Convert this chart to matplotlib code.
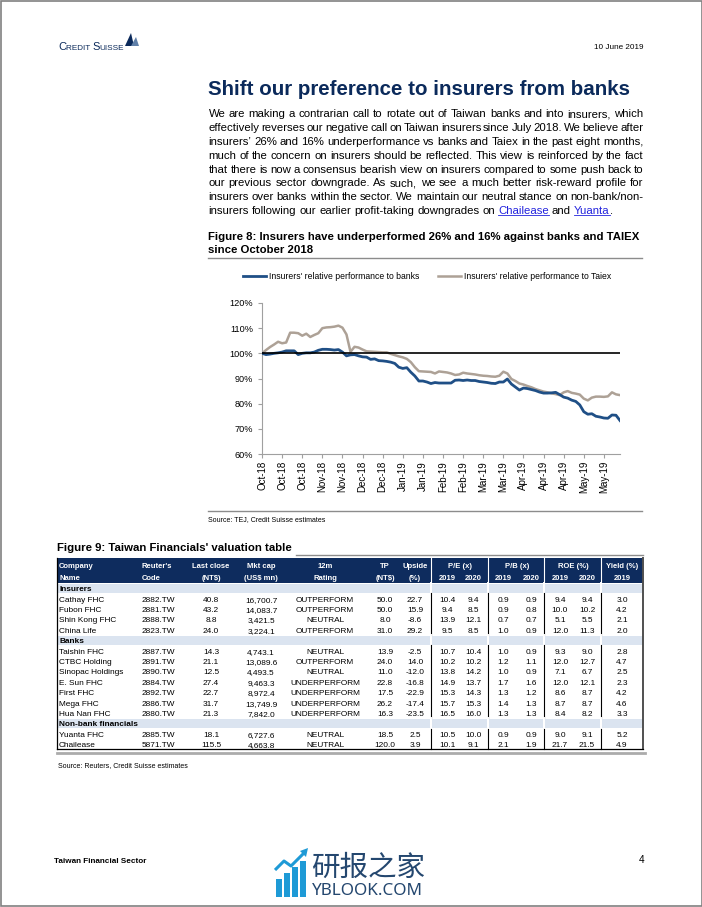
import matplotlib
matplotlib.use('Agg')
import matplotlib.pyplot as plt
from matplotlib.patches import Rectangle, Polygon
from matplotlib.ticker import FuncFormatter

# ___ CONSTANTS ___ #
FONT = 'Liberation Sans'
NAVY = '#0b2a5b'
HEAD_BG = '#0e2c5e'
BAND_BG = '#dbe4f0'
BLUE = '#1f4f86'
GRAY = '#ada196'
LINK = '#2222dd'
plt.rcParams['font.family'] = [FONT, 'DejaVu Sans']

# ___ CHART DATA (Figure 8) ___ #
DATE_LABELS = ['Oct-18', 'Oct-18', 'Oct-18', 'Nov-18', 'Nov-18', 'Dec-18', 'Dec-18',
               'Jan-19', 'Jan-19', 'Feb-19', 'Feb-19', 'Mar-19', 'Mar-19', 'Apr-19',
               'Apr-19', 'Apr-19', 'May-19', 'May-19']
LABEL_EVERY = 5  # points between two date labels
VS_BANKS = [100.0, 99.5, 99.7, 100.0, 100.2, 100.5, 101.0, 101.0, 101.0, 99.5,
            100.0, 100.2, 100.2, 100.5, 101.2, 101.6, 101.6, 101.5, 101.3, 101.5,
            100.5, 99.0, 99.4, 99.5, 99.0, 98.6, 98.5, 97.6, 97.8, 97.1,
            97.0, 96.8, 96.5, 96.0, 94.5, 94.0, 94.3, 92.5, 91.0, 89.0,
            89.0, 88.6, 88.0, 88.4, 88.2, 88.2, 88.2, 88.2, 89.3, 89.4,
            89.2, 89.4, 89.2, 89.2, 88.8, 88.6, 88.4, 88.1, 88.0, 88.6,
            88.6, 89.8, 87.8, 86.6, 85.4, 86.2, 86.0, 85.6, 85.2, 84.6,
            84.2, 84.2, 84.3, 84.5, 83.6, 82.6, 82.2, 81.4, 80.9, 79.5,
            76.8, 75.8, 76.0, 75.0, 74.7, 74.3, 74.2, 75.5, 75.4, 73.3]
VS_TAIEX = [100.0, 101.3, 102.5, 103.5, 104.6, 104.0, 104.3, 108.2, 108.2, 108.0,
            107.0, 107.8, 106.5, 107.3, 108.0, 110.0, 110.3, 110.4, 110.6, 111.0,
            110.2, 107.5, 100.6, 102.6, 102.3, 101.5, 100.8, 100.7, 100.6, 100.5,
            100.4, 100.4, 99.8, 99.3, 98.8, 98.4, 97.8, 96.5, 94.5, 92.9,
            92.8, 92.7, 92.6, 92.0, 92.8, 92.6, 92.4, 92.0, 91.4, 91.6,
            92.3, 92.0, 91.8, 91.6, 91.3, 91.1, 91.0, 90.8, 90.7, 91.1,
            92.7, 92.0, 89.8, 89.0, 88.0, 87.6, 87.0, 86.5, 85.8, 85.3,
            84.8, 84.5, 84.1, 83.8, 83.4, 84.5, 85.0, 84.3, 84.0, 83.6,
            82.0, 81.3, 82.4, 82.8, 82.8, 82.7, 82.9, 84.5, 83.7, 83.4]
Y_TICKS = [60, 70, 80, 90, 100, 110, 120]

# ___ TABLE DATA (Figure 9) ___ #
SECTIONS = ['Insurers', 'Banks', 'Non-bank financials']
SECTION_SIZES = [4, 7, 2]
COMPANY = ['Cathay FHC', 'Fubon FHC', 'Shin Kong FHC', 'China Life',
           'Taishin FHC', 'CTBC Holding', 'Sinopac Holdings', 'E. Sun FHC',
           'First FHC', 'Mega FHC', 'Hua Nan FHC', 'Yuanta FHC', 'Chailease']
CODE = ['2882.TW', '2881.TW', '2888.TW', '2823.TW', '2887.TW', '2891.TW', '2890.TW',
        '2884.TW', '2892.TW', '2886.TW', '2880.TW', '2885.TW', '5871.TW']
LAST_CLOSE = [40.8, 43.2, 8.8, 24.0, 14.3, 21.1, 12.5, 27.4, 22.7, 31.7, 21.3, 18.1, 115.5]
MKT_CAP = [16700.7, 14083.7, 3421.5, 3224.1, 4743.1, 13089.6, 4493.5, 9463.3,
           8972.4, 13749.9, 7842.0, 6727.6, 4663.8]
RATING = ['OUTPERFORM', 'OUTPERFORM', 'NEUTRAL', 'OUTPERFORM', 'NEUTRAL', 'OUTPERFORM',
          'NEUTRAL', 'UNDERPERFORM', 'UNDERPERFORM', 'UNDERPERFORM', 'UNDERPERFORM',
          'NEUTRAL', 'NEUTRAL']
TP = [50.0, 50.0, 8.0, 31.0, 13.9, 24.0, 11.0, 22.8, 17.5, 26.2, 16.3, 18.5, 120.0]
UPSIDE = [22.7, 15.9, -8.6, 29.2, -2.5, 14.0, -12.0, -16.8, -22.9, -17.4, -23.5, 2.5, 3.9]
PE_2019 = [10.4, 9.4, 13.9, 9.5, 10.7, 10.2, 13.8, 14.9, 15.3, 15.7, 16.5, 10.5, 10.1]
PE_2020 = [9.4, 8.5, 12.1, 8.5, 10.4, 10.2, 14.2, 13.7, 14.3, 15.3, 16.0, 10.0, 9.1]
PB_2019 = [0.9, 0.9, 0.7, 1.0, 1.0, 1.2, 1.0, 1.7, 1.3, 1.4, 1.3, 0.9, 2.1]
PB_2020 = [0.9, 0.8, 0.7, 0.9, 0.9, 1.1, 0.9, 1.6, 1.2, 1.3, 1.3, 0.9, 1.9]
ROE_2019 = [9.4, 10.0, 5.1, 12.0, 9.3, 12.0, 7.1, 12.0, 8.6, 8.7, 8.4, 9.0, 21.7]
ROE_2020 = [9.4, 10.2, 5.5, 11.3, 9.0, 12.7, 6.7, 12.1, 8.7, 8.7, 8.2, 9.1, 21.5]
YIELD_2019 = [3.0, 4.2, 2.1, 2.0, 2.8, 4.7, 2.5, 2.3, 4.2, 4.6, 3.3, 5.2, 4.9]

PARAGRAPH = [
    "We are making a contrarian call to rotate out of Taiwan banks and into insurers, which",
    "effectively reverses our negative call on Taiwan insurers since July 2018.  We believe after",
    "insurers\u2019 26% and 16% underperformance vs banks and Taiex in the past eight months,",
    "much of the concern on insurers should be reflected.  This view is reinforced by the fact",
    "that there is now a consensus bearish view on insurers compared to some push back to",
    "our previous sector downgrade. As such, we see a much better risk-reward profile for",
    "insurers over banks within the sector.  We maintain our neutral stance on non-bank/non-",
    "insurers following our earlier profit-taking downgrades on Chailease and Yuanta.",
]
LINKS = ['Chailease', 'Yuanta']

# page canvas in pixel units (y grows downwards)
fig = plt.figure(figsize=(7.02, 9.07), dpi=100)
pg = fig.add_axes([0, 0, 1, 1])
pg.set_xlim(0, 702)
pg.set_ylim(907, 0)
pg.axis('off')
renderer = fig.canvas.get_renderer()


def put(x, y, s, size, ha='left', weight='normal', color='black', **kw):
    # y is the middle of the capital letters; text sits on its baseline
    base = y + 0.358 * size * 100 / 72
    return pg.text(x, base, s, fontsize=size, ha=ha, va='baseline', fontweight=weight,
                   color=color, **kw)


def width_of(t):
    return t.get_window_extent(renderer).width


def fit(s, target, weight='normal', **kw):
    # font size that makes s exactly target pixels wide
    t = pg.text(0, 0, s, fontsize=10, fontweight=weight, **kw)
    w = width_of(t)
    t.remove()
    return 10 * target / w


# ___ page frame ___ #
pg.add_patch(Rectangle((0.5, 0.5), 701, 905, fill=False, ec='#808080', lw=1.2))

# ___ header ___ #
logo = [('C', 8.0), ('REDIT ', 5.9), ('S', 8.0), ('UISSE', 5.9)]
x = 58
for part, size in logo:
    t = pg.text(x, 50, part, fontsize=size, color=NAVY, va='baseline')
    x += width_of(t)
pg.add_patch(Polygon([(125, 46), (131, 33), (134, 46)], closed=True, color=NAVY, lw=0))
pg.add_patch(Polygon([(131, 46), (136, 37), (139, 46)], closed=True, color='#5f7fa8', lw=0))
put(644, 46, '10 June 2019', fit('10 June 2019', 49), ha='right')

put(208, 88, 'Shift our preference to insurers from banks',
    fit('Shift our preference to insurers from banks', 424, 'bold'), weight='bold', color=NAVY)

# ___ justified paragraph ___ #
P_SIZE = fit(PARAGRAPH[-1], 385) * 1.05
sp_t = pg.text(0, 0, 'a a', fontsize=P_SIZE)
nosp_t = pg.text(0, 0, 'aa', fontsize=P_SIZE)
SPACE = width_of(sp_t) - width_of(nosp_t)
sp_t.remove()
nosp_t.remove()
for k, line in enumerate(PARAGRAPH):
    y = 113.3 + k * 13.8
    words = line.split()
    last = k == len(PARAGRAPH) - 1
    if not last:
        ts = [put(208.5, y, w, P_SIZE) for w in words]
        ws = [width_of(t) for t in ts]
        gap = (643.5 - 208.5 - sum(ws)) / (len(words) - 1)
        x = 208.5
        for t, w in zip(ts, ws):
            t.set_x(x)
            x += w + gap
    else:
        x = 208.5
        for w in words:
            core = w.rstrip('.')
            if core in LINKS:
                t = put(x, y, core, P_SIZE, color=LINK)
                cw = width_of(t)
                pg.plot([x, x + cw], [y + 5.0, y + 5.0], color=LINK, lw=0.6)
                x += cw
                if w.endswith('.'):
                    x += width_of(put(x, y, '.', P_SIZE))
            else:
                x += width_of(put(x, y, w, P_SIZE))
            x += SPACE

# ___ Figure 8 ___ #
F_SIZE = fit('Figure 8: Insurers have underperformed 26% and 16% against banks and TAIEX', 433, 'bold')
put(208, 236, 'Figure 8: Insurers have underperformed 26% and 16% against banks and TAIEX',
    F_SIZE, weight='bold')
put(208, 249, 'since October 2018', F_SIZE, weight='bold')
pg.plot([208, 642], [258, 258], color='#8c8c8c', lw=1.0)

ax = fig.add_axes([262 / 702, 1 - 454 / 907, 358 / 702, 151 / 907])
ax.patch.set_alpha(0)
x_idx = list(range(len(VS_BANKS)))
ax.plot(x_idx, VS_BANKS, color=BLUE, lw=2.0, label="Insurers' relative performance to banks",
        solid_joinstyle='round', zorder=3)
ax.plot(x_idx, VS_TAIEX, color=GRAY, lw=1.8, label="Insurers' relative performance to Taiex",
        solid_joinstyle='round', zorder=2)
ax.axhline(100, color='black', lw=1.2, zorder=4)
ax.set_xlim(0, len(VS_BANKS) - 1)
ax.set_ylim(Y_TICKS[0], Y_TICKS[-1])
ax.set_yticks(Y_TICKS)
ax.yaxis.set_major_formatter(FuncFormatter(lambda v, _: f'{v:.0f}%'))
ax.set_xticks(range(0, LABEL_EVERY * len(DATE_LABELS), LABEL_EVERY))
ax.set_xticklabels(DATE_LABELS, rotation=90)
for side in ('top', 'right'):
    ax.spines[side].set_visible(False)
for side in ('left', 'bottom'):
    ax.spines[side].set_color('#a0a0a0')
    ax.spines[side].set_linewidth(0.8)
ax.tick_params(axis='y', length=2.9, width=0.8, color='#a0a0a0', pad=3.5, labelsize=6.6)
ax.tick_params(axis='x', length=2.9, width=0.8, color='#a0a0a0', pad=2, labelsize=7.0)

L_SIZE = fit("Insurers' relative performance to banks", 149)
L_PX = L_SIZE * 100 / 72
ax.legend(loc='center left', bbox_to_anchor=(243 / 702, 1 - 277 / 907),
          bbox_transform=fig.transFigure, ncol=2, frameon=False, fontsize=L_SIZE,
          borderpad=0, borderaxespad=0, handlelength=23 / L_PX, handletextpad=0.3,
          columnspacing=19 / L_PX)

pg.plot([208, 642], [510.5, 510.5], color='#8c8c8c', lw=1.0)
S_SIZE = fit('Source: Reuters, Credit Suisse estimates', 128)
put(208, 519, 'Source: TEJ, Credit Suisse estimates', S_SIZE)

# ___ Figure 9 table ___ #
put(57, 547, "Figure 9: Taiwan Financials' valuation table", F_SIZE, weight='bold')
pg.plot([296, 643], [555, 555], color='#8c8c8c', lw=1.0)

T_LEFT, T_RIGHT = 57, 643
T_TOP, HEAD_H, ROW_H = 558, 25, 10.4
SEPS = [430.7, 487.7, 544.3, 600.7]
H_SIZE = fit('Last close', 37, 'bold')
B_SIZE = fit('OUTPERFORM', 55) * 1.07

pg.add_patch(Rectangle((T_LEFT, T_TOP), T_RIGHT - T_LEFT, HEAD_H, color=HEAD_BG, lw=0))
for sx in SEPS:
    pg.plot([sx, sx], [T_TOP, T_TOP + HEAD_H], color='white', lw=0.8)

# (x, align, first header line, second header line)
COLUMNS = [
    (59, 'left', 'Company', 'Name'),
    (142, 'left', "Reuter's", 'Code'),
    (211, 'center', 'Last close', '(NT$)'),
    (261, 'center', 'Mkt cap', '(US$ mn)'),
    (325, 'center', '12m', 'Rating'),
    (385, 'center', 'TP', '(NT$)'),
    (415, 'center', 'Upside', '(%)'),
    (447, 'center', '', '2019'),
    (473, 'center', '', '2020'),
    (503, 'center', '', '2019'),
    (531, 'center', '', '2020'),
    (560, 'center', '', '2019'),
    (587, 'center', '', '2020'),
    (622, 'center', 'Yield (%)', '2019'),
]
GROUPS = [(460, 'P/E (x)'), (517, 'P/B (x)'), (573, 'ROE (%)')]
for cx, ha, top, bottom in COLUMNS:
    put(cx, T_TOP + 7, top, H_SIZE, ha=ha, weight='bold', color='white')
    put(cx, T_TOP + 19, bottom, H_SIZE, ha=ha, weight='bold', color='white')
for cx, label in GROUPS:
    put(cx, T_TOP + 7, label, H_SIZE, ha='center', weight='bold', color='white')

row = 0
i = 0
for section, n in zip(SECTIONS, SECTION_SIZES):
    y0 = T_TOP + HEAD_H + row * ROW_H
    pg.add_patch(Rectangle((T_LEFT, y0 + 0.8), T_RIGHT - T_LEFT, ROW_H - 1.2, color=BAND_BG, lw=0))
    for sx in SEPS:
        pg.plot([sx, sx], [y0, y0 + ROW_H], color='white', lw=1.4)
    put(59, y0 + ROW_H / 2, section, B_SIZE, weight='bold')
    row += 1
    y0 = T_TOP + HEAD_H + row * ROW_H
    for sx in SEPS:
        pg.plot([sx, sx], [y0, y0 + n * ROW_H], color='black', lw=0.8)
    for _ in range(n):
        yc = T_TOP + HEAD_H + row * ROW_H + ROW_H / 2
        cells = [COMPANY[i], CODE[i], f'{LAST_CLOSE[i]:.1f}', f'{MKT_CAP[i]:,.1f}', RATING[i],
                 f'{TP[i]:.1f}', f'{UPSIDE[i]:.1f}', f'{PE_2019[i]:.1f}', f'{PE_2020[i]:.1f}',
                 f'{PB_2019[i]:.1f}', f'{PB_2020[i]:.1f}', f'{ROE_2019[i]:.1f}',
                 f'{ROE_2020[i]:.1f}', f'{YIELD_2019[i]:.1f}']
        for (cx, ha, _, _), cell in zip(COLUMNS, cells):
            put(cx, yc, cell, B_SIZE, ha=ha)
        row += 1
        i += 1

T_BOTTOM = T_TOP + HEAD_H + row * ROW_H
pg.plot([T_LEFT, T_LEFT], [T_TOP, T_BOTTOM], color='black', lw=0.9)
pg.plot([T_RIGHT, T_RIGHT], [T_TOP, T_BOTTOM], color='#505050', lw=1.4)
pg.plot([T_LEFT, T_RIGHT], [T_BOTTOM, T_BOTTOM], color='black', lw=0.9)
pg.plot([T_LEFT, T_RIGHT + 1.5], [T_BOTTOM + 3.5, T_BOTTOM + 3.5], color='#ababab', lw=2.0)
put(58, 765, 'Source: Reuters, Credit Suisse estimates', S_SIZE)

# ___ footer ___ #
put(54, 860, 'Taiwan Financial Sector', fit('Taiwan Financial Sector', 92, 'bold'), weight='bold')
put(644, 859, '4', 7.2, ha='right')

# watermark
WM_BLUE = '#1e9ad6'
for bx, top in zip([276, 284, 292, 300], [879, 873, 867, 861]):
    pg.add_patch(Rectangle((bx, top), 5.5, 897 - top, color=WM_BLUE, lw=0))
pg.plot([275, 284, 291, 305], [870, 861, 866, 852], color=WM_BLUE, lw=2.2, solid_capstyle='butt')
pg.add_patch(Polygon([(308, 848), (300, 851), (306, 857)], closed=True, color=WM_BLUE, lw=0))
put(311, 866, '研报之家', fit('研报之家', 114, family='Noto Sans CJK SC'),
    color='#24476f', family='Noto Sans CJK SC')
put(312, 889, 'YBLOOK.COM', fit('YBLOOK.COM', 112, family='Noto Sans'),
    color='#24476f', family='Noto Sans')

fig.savefig('out.png', dpi=100)
